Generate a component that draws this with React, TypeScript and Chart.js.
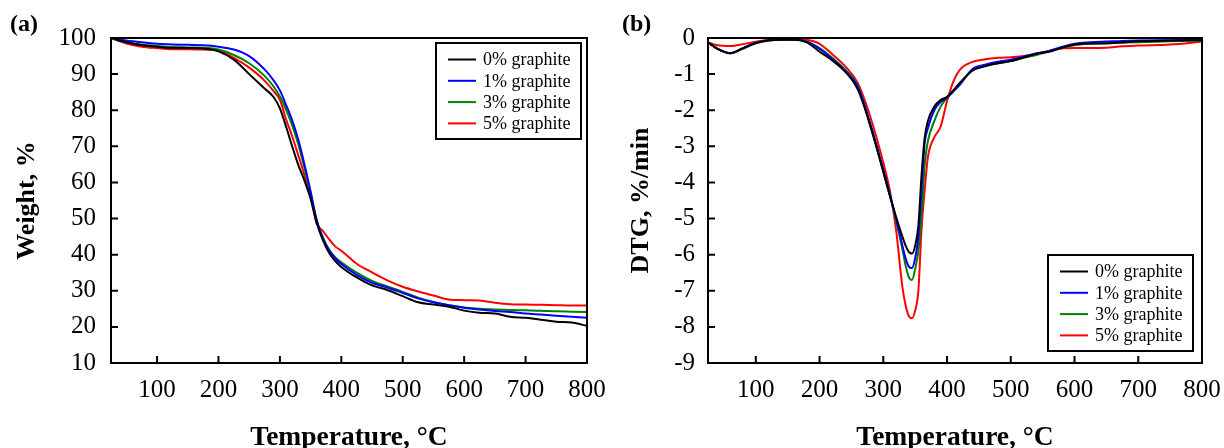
import React, { useEffect, useRef } from "react";
import { Chart, registerables } from "chart.js";
Chart.register(...registerables);

const FONT = '"Liberation Serif", "Times New Roman", Times, serif';

const seriesLabels = ["0% graphite", "1% graphite", "3% graphite", "5% graphite"];
const seriesColors = ["#000000", "#0000ff", "#008000", "#ff0000"];

const tempTicks = [100, 200, 300, 400, 500, 600, 700, 800];
const weightTicks = [10, 20, 30, 40, 50, 60, 70, 80, 90, 100];
const dtgTicks = [-9, -8, -7, -6, -5, -4, -3, -2, -1, 0];

const tgaTemps = [25, 50, 75, 100, 125, 150, 175, 200, 225, 250, 275, 290, 300, 310, 320, 330, 340, 350, 360, 370, 380, 390, 400, 425, 450, 475, 500, 525, 550, 575, 600, 625, 650, 675, 700, 725, 750, 775, 800];
const weight0 = [100, 98.8, 98.0, 97.6, 97.2, 97.2, 97.1, 96.3, 94.0, 90.0, 86.0, 83.6, 80.5, 75.5, 70.0, 64.8, 60.5, 55.5, 48.8, 44.0, 40.5, 38.2, 36.6, 33.7, 31.5, 30.2, 28.5, 26.8, 26.2, 25.6, 24.5, 23.9, 23.7, 22.8, 22.5, 22.0, 21.4, 21.2, 20.3];
const weight1 = [100, 99.3, 98.8, 98.4, 98.2, 98.1, 98.0, 97.6, 96.8, 95.0, 91.3, 88.2, 85.5, 81.5, 77.2, 71.8, 65.0, 57.5, 49.5, 44.5, 41.2, 39.0, 37.4, 34.4, 32.2, 30.9, 29.4, 27.9, 26.8, 26.0, 25.3, 24.8, 24.4, 24.1, 23.7, 23.4, 23.1, 22.8, 22.5];
const weight3 = [100, 98.8, 98.2, 97.8, 97.5, 97.4, 97.3, 96.8, 95.3, 93.0, 89.5, 86.5, 83.8, 80.2, 75.8, 70.5, 64.0, 57.0, 49.3, 44.8, 41.4, 39.3, 37.9, 35.0, 32.7, 31.2, 29.7, 28.1, 26.9, 26.0, 25.4, 25.0, 24.8, 24.7, 24.6, 24.5, 24.3, 24.2, 24.1];
const weight5 = [100, 98.5, 97.6, 97.2, 96.9, 96.9, 96.8, 96.5, 94.5, 91.8, 88.2, 85.2, 82.9, 77.5, 72.8, 67.5, 62.0, 56.0, 48.6, 46.6, 44.3, 42.3, 41.1, 37.5, 35.1, 32.9, 31.1, 29.8, 28.7, 27.6, 27.4, 27.3, 26.7, 26.3, 26.2, 26.1, 26.0, 25.9, 25.9];

const dtgTemps = [25, 40, 60, 80, 100, 120, 140, 160, 180, 200, 220, 240, 260, 280, 300, 310, 320, 330, 335, 340, 345, 350, 355, 360, 365, 370, 380, 390, 400, 410, 420, 440, 460, 480, 500, 520, 540, 560, 580, 600, 625, 650, 675, 700, 750, 800];
const dtg0 = [-0.12, -0.3, -0.42, -0.28, -0.14, -0.07, -0.05, -0.05, -0.12, -0.38, -0.62, -0.93, -1.42, -2.45, -3.7, -4.35, -4.95, -5.5, -5.75, -5.92, -5.97, -5.75, -5.2, -3.8, -2.75, -2.3, -1.9, -1.72, -1.63, -1.45, -1.25, -0.9, -0.78, -0.7, -0.64, -0.54, -0.44, -0.38, -0.27, -0.18, -0.15, -0.15, -0.12, -0.09, -0.07, -0.06];
const dtg1 = [-0.12, -0.3, -0.42, -0.28, -0.13, -0.06, -0.04, -0.04, -0.1, -0.3, -0.58, -0.9, -1.35, -2.4, -3.65, -4.3, -5.0, -5.75, -6.1, -6.33, -6.37, -6.1, -5.5, -4.2, -2.9, -2.5, -2.0, -1.77, -1.65, -1.48, -1.3, -0.86, -0.74, -0.66, -0.6, -0.52, -0.43, -0.36, -0.25, -0.16, -0.12, -0.1, -0.08, -0.07, -0.06, -0.05];
const dtg3 = [-0.12, -0.3, -0.42, -0.3, -0.15, -0.07, -0.05, -0.05, -0.1, -0.28, -0.55, -0.88, -1.32, -2.45, -3.7, -4.35, -5.05, -5.85, -6.3, -6.62, -6.7, -6.4, -5.9, -4.9, -3.5, -2.85, -2.3, -1.9, -1.66, -1.45, -1.25, -0.9, -0.77, -0.7, -0.64, -0.55, -0.47, -0.37, -0.27, -0.2, -0.16, -0.14, -0.13, -0.12, -0.09, -0.07];
const dtg5 = [-0.12, -0.2, -0.22, -0.17, -0.1, -0.05, -0.03, -0.03, -0.05, -0.16, -0.45, -0.78, -1.25, -2.2, -3.45, -4.2, -5.3, -6.9, -7.4, -7.7, -7.76, -7.55, -7.0, -5.3, -4.2, -3.3, -2.75, -2.45, -1.75, -1.2, -0.88, -0.66, -0.59, -0.55, -0.53, -0.5, -0.43, -0.36, -0.29, -0.28, -0.28, -0.27, -0.23, -0.21, -0.18, -0.1];

function makeDatasets(temps: number[], series: number[][]) {
  return series.map((vals, i) => ({
    label: seriesLabels[i],
    data: temps.map((t, j) => ({ x: t, y: vals[j] })),
    borderColor: seriesColors[i],
    backgroundColor: seriesColors[i],
    borderWidth: 2,
    pointRadius: 0,
    fill: false,
    cubicInterpolationMode: "monotone" as const,
  }));
}

type LegendPos = (a: { left: number; right: number; top: number; bottom: number }) => { x: number; y: number };

function makeOverlay(tag: string, legendPos: LegendPos) {
  return {
    id: "overlay",
    afterDraw(chart: any) {
      const { ctx, chartArea: a, scales } = chart;
      ctx.save();
      ctx.strokeStyle = "#000";
      ctx.lineWidth = 2;
      ctx.strokeRect(a.left, a.top, a.right - a.left, a.bottom - a.top);
      ctx.beginPath();
      for (const t of scales.x.ticks) {
        const px = scales.x.getPixelForValue(t.value);
        ctx.moveTo(px, a.bottom);
        ctx.lineTo(px, a.bottom - 7);
      }
      for (const t of scales.y.ticks) {
        const py = scales.y.getPixelForValue(t.value);
        ctx.moveTo(a.left, py);
        ctx.lineTo(a.left + 7, py);
      }
      ctx.stroke();

      ctx.fillStyle = "#000";
      ctx.font = `bold 24px ${FONT}`;
      ctx.textAlign = "left";
      ctx.textBaseline = "middle";
      ctx.fillText(tag, 10, 25);

      const { x, y } = legendPos(a);
      const w = 145;
      const h = 96;
      ctx.fillStyle = "#fff";
      ctx.fillRect(x, y, w, h);
      ctx.lineWidth = 2;
      ctx.strokeStyle = "#000";
      ctx.strokeRect(x, y, w, h);
      ctx.font = `18px ${FONT}`;
      seriesLabels.forEach((lab, i) => {
        const ry = y + 16.5 + i * 21.3;
        ctx.strokeStyle = seriesColors[i];
        ctx.lineWidth = 2;
        ctx.beginPath();
        ctx.moveTo(x + 12, ry);
        ctx.lineTo(x + 40, ry);
        ctx.stroke();
        ctx.fillStyle = "#000";
        ctx.fillText(lab, x + 47, ry + 1);
      });
      ctx.restore();
    },
  };
}

function makeConfig(opts: {
  datasets: any[];
  yMin: number;
  yMax: number;
  yTicks: number[];
  yTitle: string;
  yWidth: number;
  yTitlePad: number;
  yLabelPad: number;
  padRight: number;
  tag: string;
  legendPos: LegendPos;
}): any {
  return {
    type: "line",
    data: { datasets: opts.datasets },
    plugins: [makeOverlay(opts.tag, opts.legendPos)],
    options: {
      responsive: false,
      animation: false,
      events: [],
      layout: { padding: { left: 0, top: 38, right: opts.padRight, bottom: 0 } },
      plugins: { legend: { display: false }, tooltip: { enabled: false } },
      scales: {
        x: {
          type: "linear",
          min: 25,
          max: 800,
          afterBuildTicks: (s: any) => {
            s.ticks = tempTicks.map((v) => ({ value: v }));
          },
          afterFit: (s: any) => {
            s.height = 85;
            s.paddingLeft = 0;
            s.paddingRight = 0;
          },
          grid: { display: false, drawTicks: false },
          border: { display: false },
          ticks: {
            autoSkip: false,
            maxRotation: 0,
            padding: 12,
            color: "#000",
            font: { family: FONT, size: 25 },
          },
          title: {
            display: true,
            text: "Temperature, °C",
            color: "#000",
            font: { family: FONT, size: 27.5, weight: "bold", lineHeight: 1 },
            padding: { top: 0, bottom: -4 },
          },
        },
        y: {
          type: "linear",
          min: opts.yMin,
          max: opts.yMax,
          afterBuildTicks: (s: any) => {
            s.ticks = opts.yTicks.map((v) => ({ value: v }));
          },
          afterFit: (s: any) => {
            s.width = opts.yWidth;
          },
          grid: { display: false, drawTicks: false },
          border: { display: false },
          ticks: {
            padding: opts.yLabelPad,
            color: "#000",
            font: { family: FONT, size: 25 },
            callback: (v: any) => String(v),
          },
          title: {
            display: true,
            text: opts.yTitle,
            color: "#000",
            font: { family: FONT, size: 26, weight: "bold", lineHeight: 1 },
            padding: { top: opts.yTitlePad, bottom: 0 },
          },
        },
      },
    },
  };
}

export default function App() {
  const refA = useRef<HTMLCanvasElement | null>(null);
  const refB = useRef<HTMLCanvasElement | null>(null);

  useEffect(() => {
    const cfgA = makeConfig({
      datasets: makeDatasets(tgaTemps, [weight0, weight1, weight3, weight5]),
      yMin: 10,
      yMax: 100,
      yTicks: weightTicks,
      yTitle: "Weight, %",
      yWidth: 111,
      yTitlePad: 14,
      yLabelPad: 15,
      padRight: 25,
      tag: "(a)",
      legendPos: (a) => ({ x: a.right - 151, y: a.top + 5 }),
    });
    const cfgB = makeConfig({
      datasets: makeDatasets(dtgTemps, [dtg0, dtg1, dtg3, dtg5]),
      yMin: -9,
      yMax: 0,
      yTicks: dtgTicks,
      yTitle: "DTG, %/min",
      yWidth: 96,
      yTitlePad: 16,
      yLabelPad: 13,
      padRight: 22,
      tag: "(b)",
      legendPos: (a) => ({ x: a.right - 154, y: a.bottom - 108 }),
    });
    const c1 = new Chart(refA.current as HTMLCanvasElement, cfgA);
    const c2 = new Chart(refB.current as HTMLCanvasElement, cfgB);
    return () => {
      c1.destroy();
      c2.destroy();
    };
  }, []);

  return (
    <div style={{ position: "absolute", left: 0, top: 0, width: 1224, height: 448, background: "#fff" }}>
      <canvas ref={refA} width={612} height={448} style={{ position: "absolute", left: 0, top: 0, width: 612, height: 448 }} />
      <canvas ref={refB} width={612} height={448} style={{ position: "absolute", left: 612, top: 0, width: 612, height: 448 }} />
    </div>
  );
}
